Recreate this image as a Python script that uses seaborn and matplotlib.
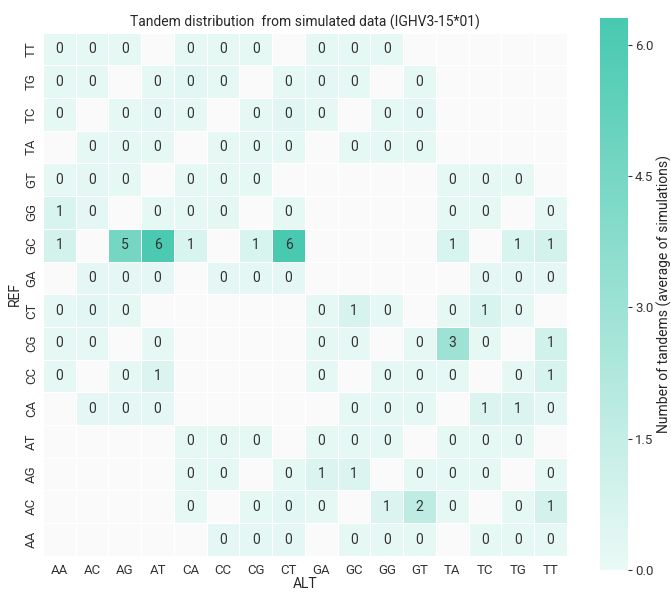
import numpy as np
import pandas as pd
import matplotlib
matplotlib.use("Agg")
import matplotlib.pyplot as plt
from matplotlib.colors import LinearSegmentedColormap
import seaborn as sns

n = np.nan

# dinucleotide labels
alt = ["AA", "AC", "AG", "AT", "CA", "CC", "CG", "CT",
       "GA", "GC", "GG", "GT", "TA", "TC", "TG", "TT"]
ref = ["TT", "TG", "TC", "TA", "GT", "GG", "GC", "GA",
       "CT", "CG", "CC", "CA", "AT", "AG", "AC", "AA"]

# average number of tandems per simulation (rows in display order, top to bottom)
row_TT = [.15, .15, .15, n, .15, .15, .15, n, .15, .15, .15, n, n, n, n, n]
row_TG = [.15, .15, n, .15, .3, .15, n, .15, .2, .15, n, .15, n, n, n, n]
row_TC = [.15, n, .15, .2, .15, n, .15, .35, .15, n, .15, .2, n, n, n, n]
row_TA = [n, .15, .15, .15, n, .15, .15, .15, n, .15, .15, .15, n, n, n, n]
row_GT = [.15, .25, .15, n, .15, .15, .15, n, n, n, n, n, .15, .15, .15, n]
row_GG = [.7, .2, n, .15, .15, .25, n, .15, n, n, n, n, .15, .15, n, .15]
row_GC = [.9, n, 4.6, 6.2, .7, n, .7, 6.3, n, n, n, n, .7, n, .7, .9]
row_GA = [n, .2, .2, .2, n, .2, .2, .2, n, n, n, n, n, .2, .2, .2]
row_CT = [.15, .3, .15, n, n, n, n, n, .15, .8, .15, n, .15, .7, .15, n]
row_CG = [.15, .15, n, .15, n, n, n, n, .15, .15, n, .15, 3.0, .15, n, 1.0]
row_CC = [.15, n, .15, .6, n, n, n, n, .15, n, .15, .15, .15, n, .15, .8]
row_CA = [n, .2, .2, .2, n, n, n, n, n, .15, .15, .15, n, .6, .6, .2]
row_AT = [n, n, n, n, .15, .15, .15, n, .15, .15, .15, n, .15, .15, .15, n]
row_AG = [n, n, n, n, .15, .15, n, .15, .6, .6, n, .15, .15, .15, n, .15]
row_AC = [n, n, n, n, .15, n, .15, .3, .15, n, .6, 1.7, .15, n, .15, .9]
row_AA = [n, n, n, n, n, .2, .2, .2, n, .15, .15, .15, n, .15, .15, .15]

rows = [row_TT, row_TG, row_TC, row_TA, row_GT, row_GG, row_GC, row_GA,
        row_CT, row_CG, row_CC, row_CA, row_AT, row_AG, row_AC, row_AA]
df = pd.DataFrame(rows, index=ref, columns=alt)

sns.set_style("white")
plt.rcParams["font.family"] = ["Roboto", "DejaVu Sans"]

cmap = LinearSegmentedColormap.from_list("turq", ["#eaf9f6", "#48c9b0"])

fig = plt.figure(figsize=(6.71, 5.92), dpi=100)
ax = fig.add_axes([0.064, 0.061, 0.781, 0.884])
cax = fig.add_axes([0.894, 0.037, 0.042, 0.932])
ax.set_facecolor("#fafafa")

sns.heatmap(df, ax=ax, cbar_ax=cax, cmap=cmap, vmin=0,
            annot=True, fmt=".0f", annot_kws={"size": 10, "color": "#333333"},
            linewidths=0.7, linecolor="white",
            cbar_kws={"ticks": [0.0, 1.5, 3.0, 4.5, 6.0], "format": "%.1f"})

ax.set_title("Tandem distribution  from simulated data (IGHV3-15*01)", fontsize=10, pad=4)
ax.set_xlabel("ALT", fontsize=10, labelpad=0)
ax.set_ylabel("REF", fontsize=10, labelpad=2)
ax.tick_params(axis="both", length=0, labelsize=9.5, colors="#333333")
ax.tick_params(axis="x", pad=6)
plt.setp(ax.get_yticklabels(), rotation=90, va="center")
plt.setp(ax.get_xticklabels(), rotation=0)

cax.tick_params(length=3, width=0.8, labelsize=9.5, colors="#333333", pad=2)
cax.set_ylabel("Number of tandems (average of simulations)", fontsize=10, labelpad=2)
for s in cax.spines.values():
    s.set_visible(False)

fig.savefig("out.png", dpi=100)
